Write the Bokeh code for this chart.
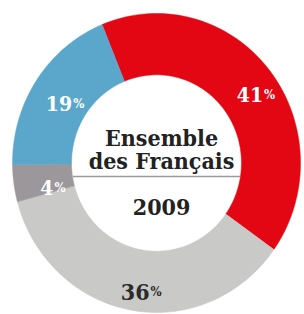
import numpy as np
from bokeh.plotting import figure
from bokeh.models import Range1d, ColumnDataSource
from bokeh.core.properties import value
from bokeh.embed import file_html
from bokeh.resources import INLINE

# data
categories = ["rouge", "gris clair", "gris foncé", "bleu"]
shares = [41, 36, 4, 19]
labels = ["41", "36", "4", "19"]
colors = ["#e30613", "#c9c9c7", "#9b979b", "#5ba7cc"]
label_colors = ["white", "#2b2b2b", "white", "white"]
title_lines = ["Ensemble", "des Français"]
year = "2009"

# layout/style
START_DEG = 112.2      # start of first slice, math degrees, then clockwise
R_OUT, R_IN = 1.0, 0.59
R_LAB = 0.82
FONT = "DejaVu Serif Condensed"
CX, CY, SX, SY = 156.0, 162.5, 144.0, 149.5   # pixel centre / scale of the ring
W, H = 304, 314

p = figure(width=W, height=H, output_backend="svg", toolbar_location=None,
           x_range=Range1d(-CX / SX, (W - CX) / SX),
           y_range=Range1d(-(H - CY) / SY, CY / SY),
           min_border=0, x_axis_location=None, y_axis_location=None)
p.grid.visible = False
p.outline_line_color = None
p.background_fill_color = "white"

vals = np.array(shares, dtype=float)
ends = START_DEG - np.cumsum(vals) / vals.sum() * 360
starts = np.concatenate([[START_DEG], ends[:-1]])

xs, ys, mx, my = [], [], [], []
for a0, a1 in zip(starts, ends):
    t = np.radians(np.linspace(a0, a1, 80))
    xs.append(list(np.concatenate([R_OUT * np.cos(t), R_IN * np.cos(t[::-1])])))
    ys.append(list(np.concatenate([R_OUT * np.sin(t), R_IN * np.sin(t[::-1])])))
    m = np.radians((a0 + a1) / 2)
    mx.append(R_LAB * np.cos(m))
    my.append(R_LAB * np.sin(m))

p.patches(xs, ys, fill_color=colors, line_color=colors, line_width=0.5)

src = ColumnDataSource(dict(x=mx, y=my, num=labels, pct=["%"] * len(labels), c=label_colors,
                            fs=["21px", "23px", "21px", "21px"]))
p.text("x", "y", text="num", source=src, text_color="c", text_font=value(FONT),
       text_font_style="bold", text_font_size="fs", text_align="right",
       text_baseline="alphabetic", x_offset=14, y_offset=8)
p.text("x", "y", text="pct", source=src, text_color="c", text_font=value(FONT),
       text_font_style="bold", text_font_size="13px", text_align="left",
       text_baseline="alphabetic", x_offset=15, y_offset=8)

cx = 0.035
p.text([cx, cx], [0.171, 0.017], text=title_lines, text_color="#222222",
       text_font=value(FONT), text_font_style="bold", text_font_size="23px",
       text_align="center", text_baseline="alphabetic")
p.text([cx], [-0.291], text=[year], text_color="#222222",
       text_font=value(FONT), text_font_style="bold", text_font_size="23px",
       text_align="center", text_baseline="alphabetic")
p.segment([-R_IN + 0.01], [-0.09], [R_IN - 0.01], [-0.09], line_color="#9a9a9a", line_width=1.5)

open("out.html", "w").write(file_html(p, INLINE))
